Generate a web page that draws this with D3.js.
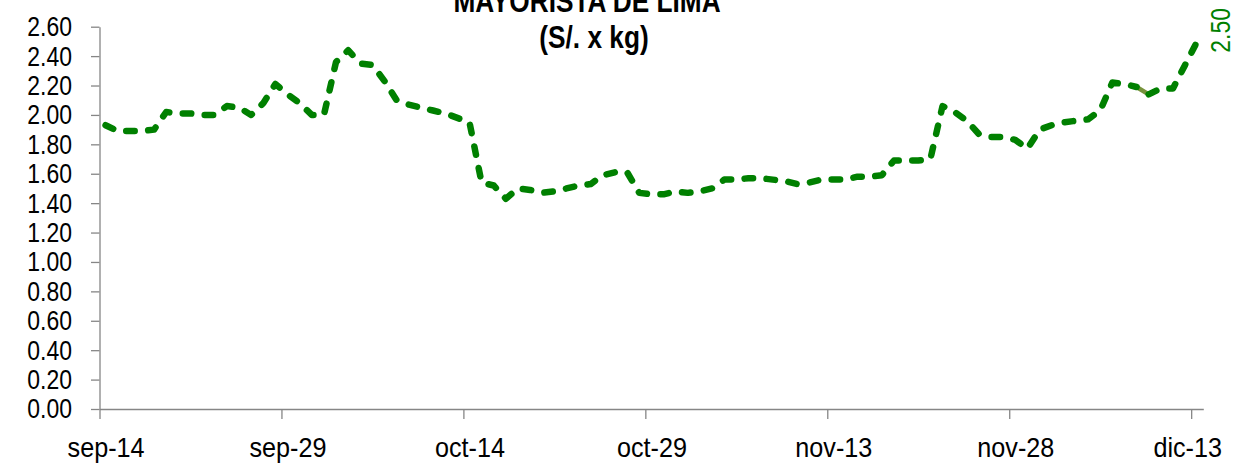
<!DOCTYPE html>
<html>
<head>
<meta charset="utf-8">
<script src="https://cdn.jsdelivr.net/npm/d3@7/dist/d3.min.js"></script>
<style>
  html, body { margin: 0; padding: 0; background: #fff; }
  svg { display: block; }
</style>
</head>
<body>
<svg id="chart" width="1237" height="469"></svg>
<script>
// ---------------- DATA ----------------
const titleLines = ["MAYORISTA DE LIMA", "(S/. x kg)"];
const startDate = "2014-09-14";   // first day (sep-14)
const endDate = "2014-12-14";     // day after last day (dic-13)
// daily wholesale price, sep-14 .. dic-13
const prices = [
  1.93, 1.89, 1.89, 1.89, 1.90, 2.02, 2.01, 2.01, 2.00, 2.00,
  2.06, 2.05, 2.00, 2.08, 2.21, 2.14, 2.08, 2.00, 2.00, 2.36,
  2.44, 2.35, 2.34, 2.23, 2.10, 2.07, 2.05, 2.03, 2.01, 1.98,
  1.95, 1.54, 1.52, 1.43, 1.50, 1.49, 1.47, 1.48, 1.50, 1.52,
  1.53, 1.59, 1.61, 1.61, 1.47, 1.46, 1.46, 1.48, 1.47, 1.48,
  1.50, 1.56, 1.56, 1.57, 1.57, 1.56, 1.55, 1.53, 1.54, 1.56,
  1.56, 1.56, 1.58, 1.58, 1.59, 1.69, 1.69, 1.69, 1.70, 2.06,
  2.02, 1.96, 1.87, 1.85, 1.85, 1.83, 1.77, 1.90, 1.93, 1.95,
  1.96, 1.97, 2.03, 2.22, 2.21, 2.19, 2.14, 2.18, 2.18, 2.34,
  2.50
];
const highlightSegment = [85, 86];  // segment drawn solid olive (indices)
const xTickDates = ["2014-09-14", "2014-09-29", "2014-10-14", "2014-10-29", "2014-11-13", "2014-11-28", "2014-12-13"];
const xTickLabels = ["sep-14", "sep-29", "oct-14", "oct-29", "nov-13", "nov-28", "dic-13"];
const yTicks = [0, 0.2, 0.4, 0.6, 0.8, 1.0, 1.2, 1.4, 1.6, 1.8, 2.0, 2.2, 2.4, 2.6];

// ---------------- SETUP ----------------
const parse = d3.utcParse("%Y-%m-%d");
const days = d3.utcDays(parse(startDate), parse(endDate));
const data = prices.map((v, i) => ({ date: d3.utcHour.offset(days[i], 12), value: v }));

const svg = d3.select("#chart");
const x = d3.scaleUtc().domain([parse(startDate), parse(endDate)]).range([99.5, 1203.3]);
const y = d3.scaleLinear().domain([0, 2.6]).range([409, 26.7]);

const axisColor = "#868686";
const font = "'Liberation Sans', Arial, sans-serif";
const narrowY = 0.82, narrowX = 0.9;

// ---------------- AXES ----------------
const yAxis = d3.axisLeft(y).tickValues(yTicks).tickFormat(d3.format(".2f"))
  .tickSize(8.5).tickSizeOuter(0).tickPadding(19);
const gy = svg.append("g").attr("transform", "translate(99.5,0)").call(yAxis);
gy.selectAll("path, line").attr("stroke", axisColor).attr("stroke-width", 1.3);
gy.selectAll("text").attr("font-family", font).attr("font-size", 28).attr("fill", "#000")
  .attr("x", -27.5 / narrowY).attr("transform", `scale(${narrowY},1)`);

const xAxis = d3.axisBottom(x).tickValues(xTickDates.map(parse))
  .tickFormat((d, i) => xTickLabels[i]).tickSize(10).tickSizeOuter(0).tickPadding(18);
const gx = svg.append("g").attr("transform", "translate(0,409)").call(xAxis);
gx.selectAll("path, line").attr("stroke", axisColor).attr("stroke-width", 1.3);
const halfDay = (x(days[1]) - x(days[0])) / 2;
gx.selectAll("text").attr("font-family", font).attr("font-size", 28).attr("fill", "#000")
  .attr("transform", `scale(${narrowX},1)`)
  .each(function () {
    // keep labels inside the chart area (right limit)
    const bb = this.getBBox();
    const w = bb.width * narrowX;
    const tx = +this.parentNode.getAttribute("transform").match(/translate\(([-\d.]+)/)[1];
    let cx = halfDay;
    const right = tx + cx + w / 2;
    if (right > 1222) cx -= (right - 1222);
    d3.select(this).attr("x", cx / narrowX);
  });

// ---------------- LINE ----------------
const line = d3.line().x(d => x(d.date)).y(d => y(d.value));
const green = "#008000";
const partA = data.slice(0, highlightSegment[0] + 1);
const partB = data.slice(highlightSegment[0], highlightSegment[1] + 1);
const partC = data.slice(highlightSegment[1]);

svg.append("path").datum(partB).attr("d", line)
  .attr("fill", "none").attr("stroke", "#77933C").attr("stroke-width", 4.5).attr("stroke-linecap", "round");
[partA, partC].forEach(p => {
  svg.append("path").datum(p).attr("d", line)
    .attr("fill", "none").attr("stroke", green).attr("stroke-width", 6.5)
    .attr("stroke-linecap", "round").attr("stroke-linejoin", "round")
    .attr("stroke-dasharray", "8.5,13.5");
});

// ---------------- DATA LABEL ----------------
const last = data[data.length - 1];
svg.append("text")
  .attr("transform", `translate(${x(last.date) + 32.5},${y(last.value) - 11}) rotate(-90) scale(${narrowY},1)`)
  .attr("text-anchor", "middle")
  .attr("font-family", font).attr("font-size", 28).attr("fill", green)
  .text(d3.format(".2f")(last.value));

// ---------------- TITLE ----------------
[[587, 12], [594, 48]].forEach((p, i) => {
  svg.append("text").attr("transform", `translate(${p[0]},${p[1]}) scale(${narrowY},1)`)
    .attr("text-anchor", "middle")
    .attr("font-family", font).attr("font-weight", "bold").attr("font-size", 32).attr("fill", "#000")
    .text(titleLines[i]);
});
</script>
</body>
</html>
